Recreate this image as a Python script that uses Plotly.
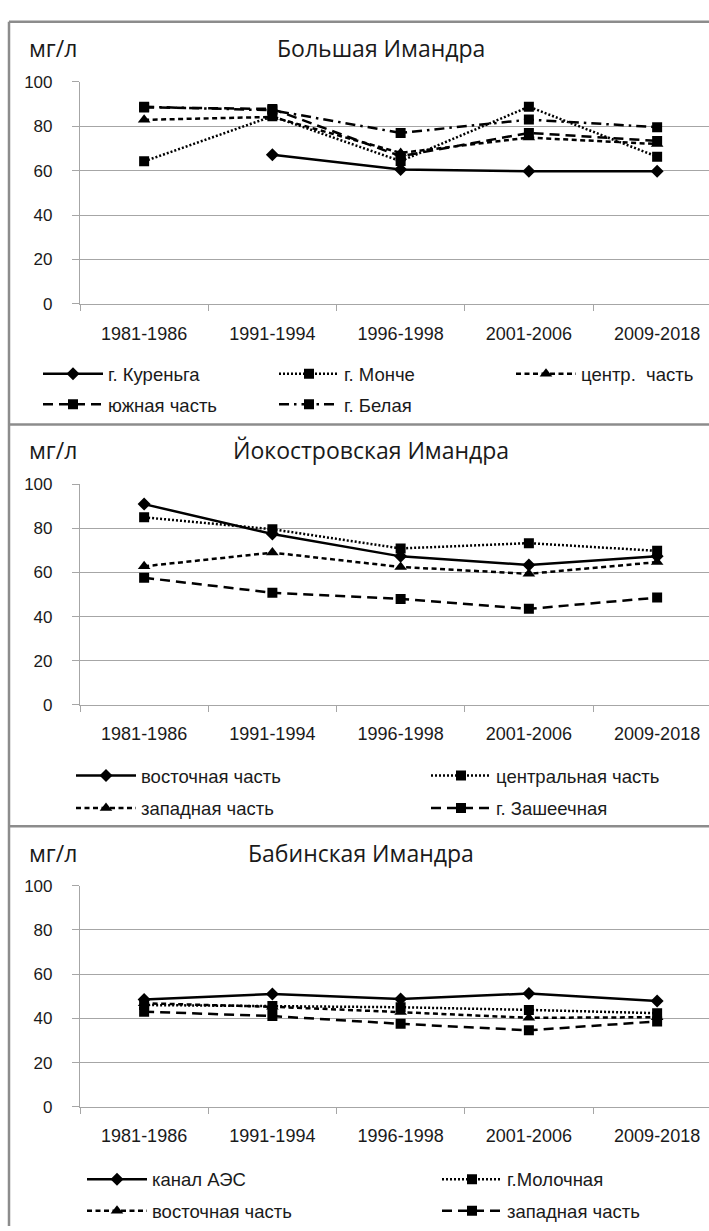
import plotly.graph_objects as go

W, H = 709, 1231

periods = ["1981-1986", "1991-1994", "1996-1998", "2001-2006", "2009-2018"]

# Panel 1: Большая Имандра
p1_title = "Большая Имандра"
p1_names = ["г. Куреньга", "г. Монче", "центр.  часть", "южная часть", "г. Белая"]
p1_kurenga = [None, 67.2, 60.5, 59.7, 59.7]
p1_monche = [64.2, 84.5, 64.3, 88.8, 66.3]
p1_centr = [82.9, 84.2, 68.0, 74.9, 72.0]
p1_south = [88.5, 87.8, 66.5, 77.0, 73.4]
p1_belaya = [88.8, 87.2, 77.0, 83.0, 79.6]

# Panel 2: Йокостровская Имандра
p2_title = "Йокостровская Имандра"
p2_names = ["восточная часть", "центральная часть", "западная часть", "г. Зашеечная"]
p2_east = [91.0, 77.4, 67.3, 63.4, 67.3]
p2_central = [85.0, 79.6, 70.9, 73.3, 69.8]
p2_west = [62.8, 69.0, 62.5, 59.4, 64.7]
p2_zash = [57.6, 50.8, 48.0, 43.5, 48.6]

# Panel 3: Бабинская Имандра
p3_title = "Бабинская Имандра"
p3_names = ["канал АЭС", "г.Молочная", "восточная часть", "западная часть"]
p3_canal = [48.5, 51.0, 48.7, 51.2, 47.8]
p3_moloch = [46.0, 45.6, 45.0, 43.8, 42.3]
p3_east = [46.8, 45.2, 42.8, 40.2, 40.5]
p3_west = [43.0, 41.0, 37.5, 34.6, 38.6]

unit = "мг/л"

def py(px):
    return 1 - px / H

def pxx(px):
    return px / W

STY = {
    "solid": dict(dash="solid", symbol="diamond", size=10),
    "dot": dict(dash="2px,2px", symbol="square", size=10),
    "dash": dict(dash="5px,3.5px", symbol="triangle-up", size=11),
    "long": dict(dash="10px,6px", symbol="square", size=10),
    "dashdot": dict(dash="10px,5px,2.5px,5px", symbol="square", size=10),
}

GRID = "#a6a6a6"
TXT = "#1a1a1a"
FONT = "Liberation Sans, Arial, sans-serif"
TFONT = "Open Sans, Noto Sans, sans-serif"

fig = go.Figure()
legends = {}
leg_count = [0]

def add(panel, name, vals, sty, line_x, row_y):
    s = STY[sty]
    xa = "x" if panel == 1 else f"x{panel}"
    ya = "y" if panel == 1 else f"y{panel}"
    leg_count[0] += 1
    lname = "legend" if leg_count[0] == 1 else f"legend{leg_count[0]}"
    legends[lname] = dict(
        orientation="h", x=pxx(line_x - 6), y=py(row_y), xanchor="left", yanchor="middle",
        bgcolor="rgba(0,0,0,0)", font=dict(family=FONT, size=18.5, color=TXT),
        itemwidth=60,
    )
    fig.add_trace(go.Scatter(
        x=periods, y=vals, name=name, mode="lines+markers",
        line=dict(color="black", width=2.5, dash=s["dash"]),
        marker=dict(color="black", symbol=s["symbol"], size=s["size"], line=dict(width=0)),
        xaxis=xa, yaxis=ya, legend=lname, connectgaps=False,
    ))

add(1, p1_names[0], p1_kurenga, "solid", 44, 371)
add(1, p1_names[1], p1_monche, "dot", 280, 371)
add(1, p1_names[2], p1_centr, "dash", 517, 371)
add(1, p1_names[3], p1_south, "long", 44, 402)
add(1, p1_names[4], p1_belaya, "dashdot", 280, 402)

add(2, p2_names[0], p2_east, "solid", 77, 779)
add(2, p2_names[1], p2_central, "dot", 432, 779)
add(2, p2_names[2], p2_west, "dash", 77, 812)
add(2, p2_names[3], p2_zash, "long", 432, 812)

add(3, p3_names[0], p3_canal, "solid", 88, 1189)
add(3, p3_names[1], p3_moloch, "dot", 443, 1189)
add(3, p3_names[2], p3_east, "dash", 88, 1221)
add(3, p3_names[3], p3_west, "long", 443, 1221)

# plot area: y=100 at top, y=0 at bottom (pixels)
panels = [(74.0, 299.5), (482.7, 706.7), (890.3, 1115.0)]
x_left = 80.0
cat_w = 128.25
x_range = [-0.5, -0.5 + (W - x_left) / cat_w]

layout = dict(
    width=W, height=H, margin=dict(l=0, r=0, t=0, b=0),
    paper_bgcolor="white", plot_bgcolor="white",
    font=dict(family=FONT, size=17, color=TXT),
    showlegend=True,
)

for i, (top, bot) in enumerate(panels, start=1):
    sfx = "" if i == 1 else str(i)
    layout["xaxis" + sfx] = dict(
        domain=[pxx(x_left), 1.0], anchor="y" + sfx, type="category",
        categoryorder="array", categoryarray=periods, range=x_range,
        tickson="boundaries", ticks="outside", ticklen=6, tickcolor=GRID, tickwidth=1.2,
        showgrid=False, showline=True, linecolor=GRID, linewidth=1.2,
        tickfont=dict(family=FONT, size=18, color=TXT), ticklabelstandoff=13,
        zeroline=False, fixedrange=True,
    )
    layout["yaxis" + sfx] = dict(
        domain=[py(bot), py(top)], anchor="x" + sfx, range=[0, 100], dtick=20,
        showgrid=True, gridcolor=GRID, gridwidth=1.2,
        ticks="outside", ticklen=7, tickcolor=GRID, tickwidth=1.2,
        showline=True, linecolor=GRID, linewidth=1.2, zeroline=False,
        tickfont=dict(family=FONT, size=17, color=TXT), ticklabelstandoff=16,
        fixedrange=True,
    )

layout.update(legends)

annotations = []
title_info = [(p1_title, 381, 40), (p2_title, 371, 448), (p3_title, 361, 857)]
for t, cx, cy in title_info:
    annotations.append(dict(text=t, x=pxx(cx), y=py(cy), xref="paper", yref="paper",
                            xanchor="center", yanchor="middle", showarrow=False,
                            font=dict(family=TFONT, size=23, color=TXT)))
    annotations.append(dict(text=unit, x=pxx(27), y=py(cy), xref="paper", yref="paper",
                            xanchor="left", yanchor="middle", showarrow=False,
                            font=dict(family=TFONT, size=23, color=TXT)))
layout["annotations"] = annotations

FRAME = "#8c8c8c"
shapes = []
shapes.append(dict(type="line", xref="paper", yref="paper", x0=pxx(9), x1=pxx(9),
                   y0=py(13), y1=py(H + 5), line=dict(color=FRAME, width=2.5)))
for yb in [13, 422, 830]:
    shapes.append(dict(type="line", xref="paper", yref="paper", x0=pxx(9), x1=1.01,
                       y0=py(yb), y1=py(yb), line=dict(color=FRAME, width=2.5)))
layout["shapes"] = shapes

fig.update_layout(**layout)
fig.write_html("out.html", config={"displayModeBar": False})
